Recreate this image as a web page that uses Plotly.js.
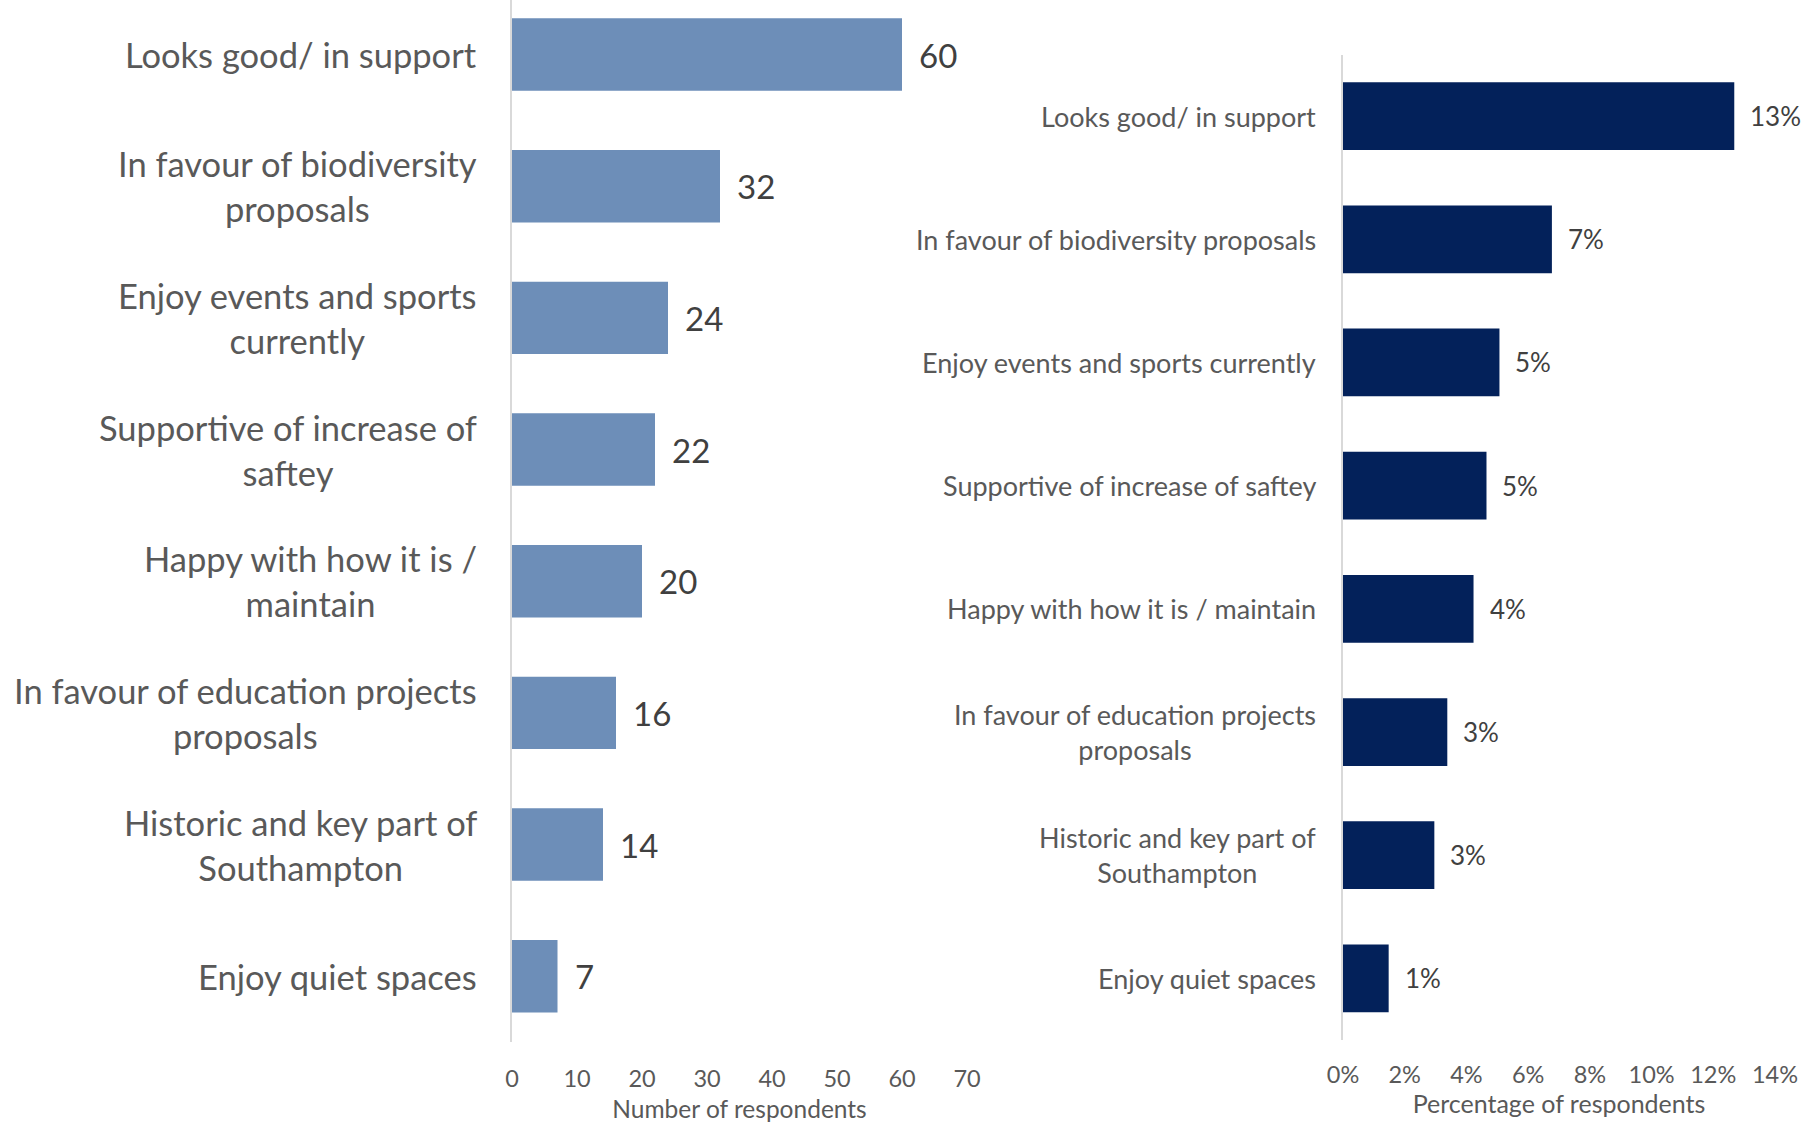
<!DOCTYPE html>
<html>
<head>
<meta charset="utf-8">
<script src="https://cdn.plot.ly/plotly-3.0.1.min.js"></script>
<style>html,body{margin:0;padding:0;background:#fff;}#chart{width:1820px;height:1123px;}</style>
</head>
<body>
<div id="chart"></div>
<script>
const categories = [
  "Looks good/ in support",
  "In favour of biodiversity proposals",
  "Enjoy events and sports currently",
  "Supportive of increase of saftey",
  "Happy with how it is / maintain",
  "In favour of education projects proposals",
  "Historic and key part of Southampton",
  "Enjoy quiet spaces"
];
const leftLabels = [
  "Looks good/ in support",
  "In favour of biodiversity<br>proposals",
  "Enjoy events and sports<br>currently",
  "Supportive of increase of<br>saftey",
  "Happy with how it is /<br>maintain",
  "In favour of education projects<br>proposals",
  "Historic and key part of<br>Southampton",
  "Enjoy quiet spaces"
];
const rightLabels = [
  "Looks good/ in support",
  "In favour of biodiversity proposals",
  "Enjoy events and sports currently",
  "Supportive of increase of saftey",
  "Happy with how it is / maintain",
  "In favour of education projects<br>proposals",
  "Historic and key part of<br>Southampton",
  "Enjoy quiet spaces"
];
const counts = [60, 32, 24, 22, 20, 16, 14, 7];
const shares = [0.1268, 0.0677, 0.0507, 0.0465, 0.0423, 0.0338, 0.0296, 0.0148];
const countTicks = [0, 10, 20, 30, 40, 50, 60, 70];
const shareTicks = [0, 0.02, 0.04, 0.06, 0.08, 0.10, 0.12, 0.14];

const FONT = "Lato, 'Open Sans', sans-serif";
const LABEL_COLOR = "#595959";
const VALUE_COLOR = "#404040";

const traces = [
  {
    type: "bar", orientation: "h",
    x: counts, y: categories,
    xaxis: "x", yaxis: "y",
    marker: {color: "#6D8EB8"},
    hoverinfo: "x+y"
  },
  {
    type: "bar", orientation: "h",
    x: shares, y: categories,
    xaxis: "x2", yaxis: "y2",
    marker: {color: "#03215A"},
    hoverinfo: "x+y"
  }
];

const annotations = [];
categories.forEach((c, i) => {
  annotations.push({
    xref: "paper", yref: "y", x: 478.5 / 1820, y: c,
    text: leftLabels[i], showarrow: false, xanchor: "right", yanchor: "middle",
    align: "center", font: {family: FONT, size: 34.5, color: LABEL_COLOR}
  });
  annotations.push({
    xref: "x", yref: "y", x: counts[i], y: c,
    text: String(counts[i]), showarrow: false, xanchor: "left", yanchor: "middle",
    xshift: 15, font: {family: FONT, size: 33, color: VALUE_COLOR}
  });
  annotations.push({
    xref: "paper", yref: "y2", x: 1317.5 / 1820, y: c,
    text: rightLabels[i], showarrow: false, xanchor: "right", yanchor: "middle",
    align: "center", font: {family: FONT, size: 27, color: LABEL_COLOR}
  });
  annotations.push({
    xref: "x2", yref: "y2", x: shares[i], y: c,
    text: Math.round(shares[i] * 100) + "%", showarrow: false, xanchor: "left", yanchor: "middle",
    xshift: 14, font: {family: FONT, size: 26, color: VALUE_COLOR}
  });
});

const layout = {
  width: 1820, height: 1123,
  margin: {l: 0, r: 0, t: 0, b: 0},
  paper_bgcolor: "#ffffff", plot_bgcolor: "#ffffff",
  showlegend: false,
  bargap: 0.45,
  font: {family: FONT, color: LABEL_COLOR},
  xaxis: {
    domain: [512 / 1820, 967 / 1820], anchor: "y",
    range: [0, 70], tickvals: countTicks,
    showgrid: false, zeroline: false, showline: false, ticks: "",
    tickfont: {family: FONT, size: 23.5, color: LABEL_COLOR},
    ticklabelstandoff: 20,
    title: {text: "Number of respondents", font: {family: FONT, size: 24.5, color: LABEL_COLOR}, standoff: 13}
  },
  yaxis: {
    domain: [1 - 1042 / 1123, 1], anchor: "x",
    type: "category", categoryorder: "array", categoryarray: categories,
    range: [7.5, -0.414],
    showticklabels: false, showgrid: false, zeroline: false, ticks: "",
    showline: true, linecolor: "#D9D9D9", linewidth: 2
  },
  xaxis2: {
    domain: [1343 / 1820, 1775 / 1820], anchor: "y2",
    range: [0, 0.14], tickvals: shareTicks, tickformat: ".0%",
    showgrid: false, zeroline: false, showline: false, ticks: "",
    tickfont: {family: FONT, size: 23.5, color: LABEL_COLOR},
    ticklabelstandoff: 18,
    title: {text: "Percentage of respondents", font: {family: FONT, size: 25, color: LABEL_COLOR}, standoff: 0}
  },
  yaxis2: {
    domain: [1 - 1040 / 1123, 1 - 54.5 / 1123], anchor: "x2",
    type: "category", categoryorder: "array", categoryarray: categories,
    range: [7.5, -0.5],
    showticklabels: false, showgrid: false, zeroline: false, ticks: "",
    showline: true, linecolor: "#D9D9D9", linewidth: 2
  },
  annotations: annotations
};

Plotly.newPlot("chart", traces, layout, {displayModeBar: false, staticPlot: true});
</script>
</body>
</html>
